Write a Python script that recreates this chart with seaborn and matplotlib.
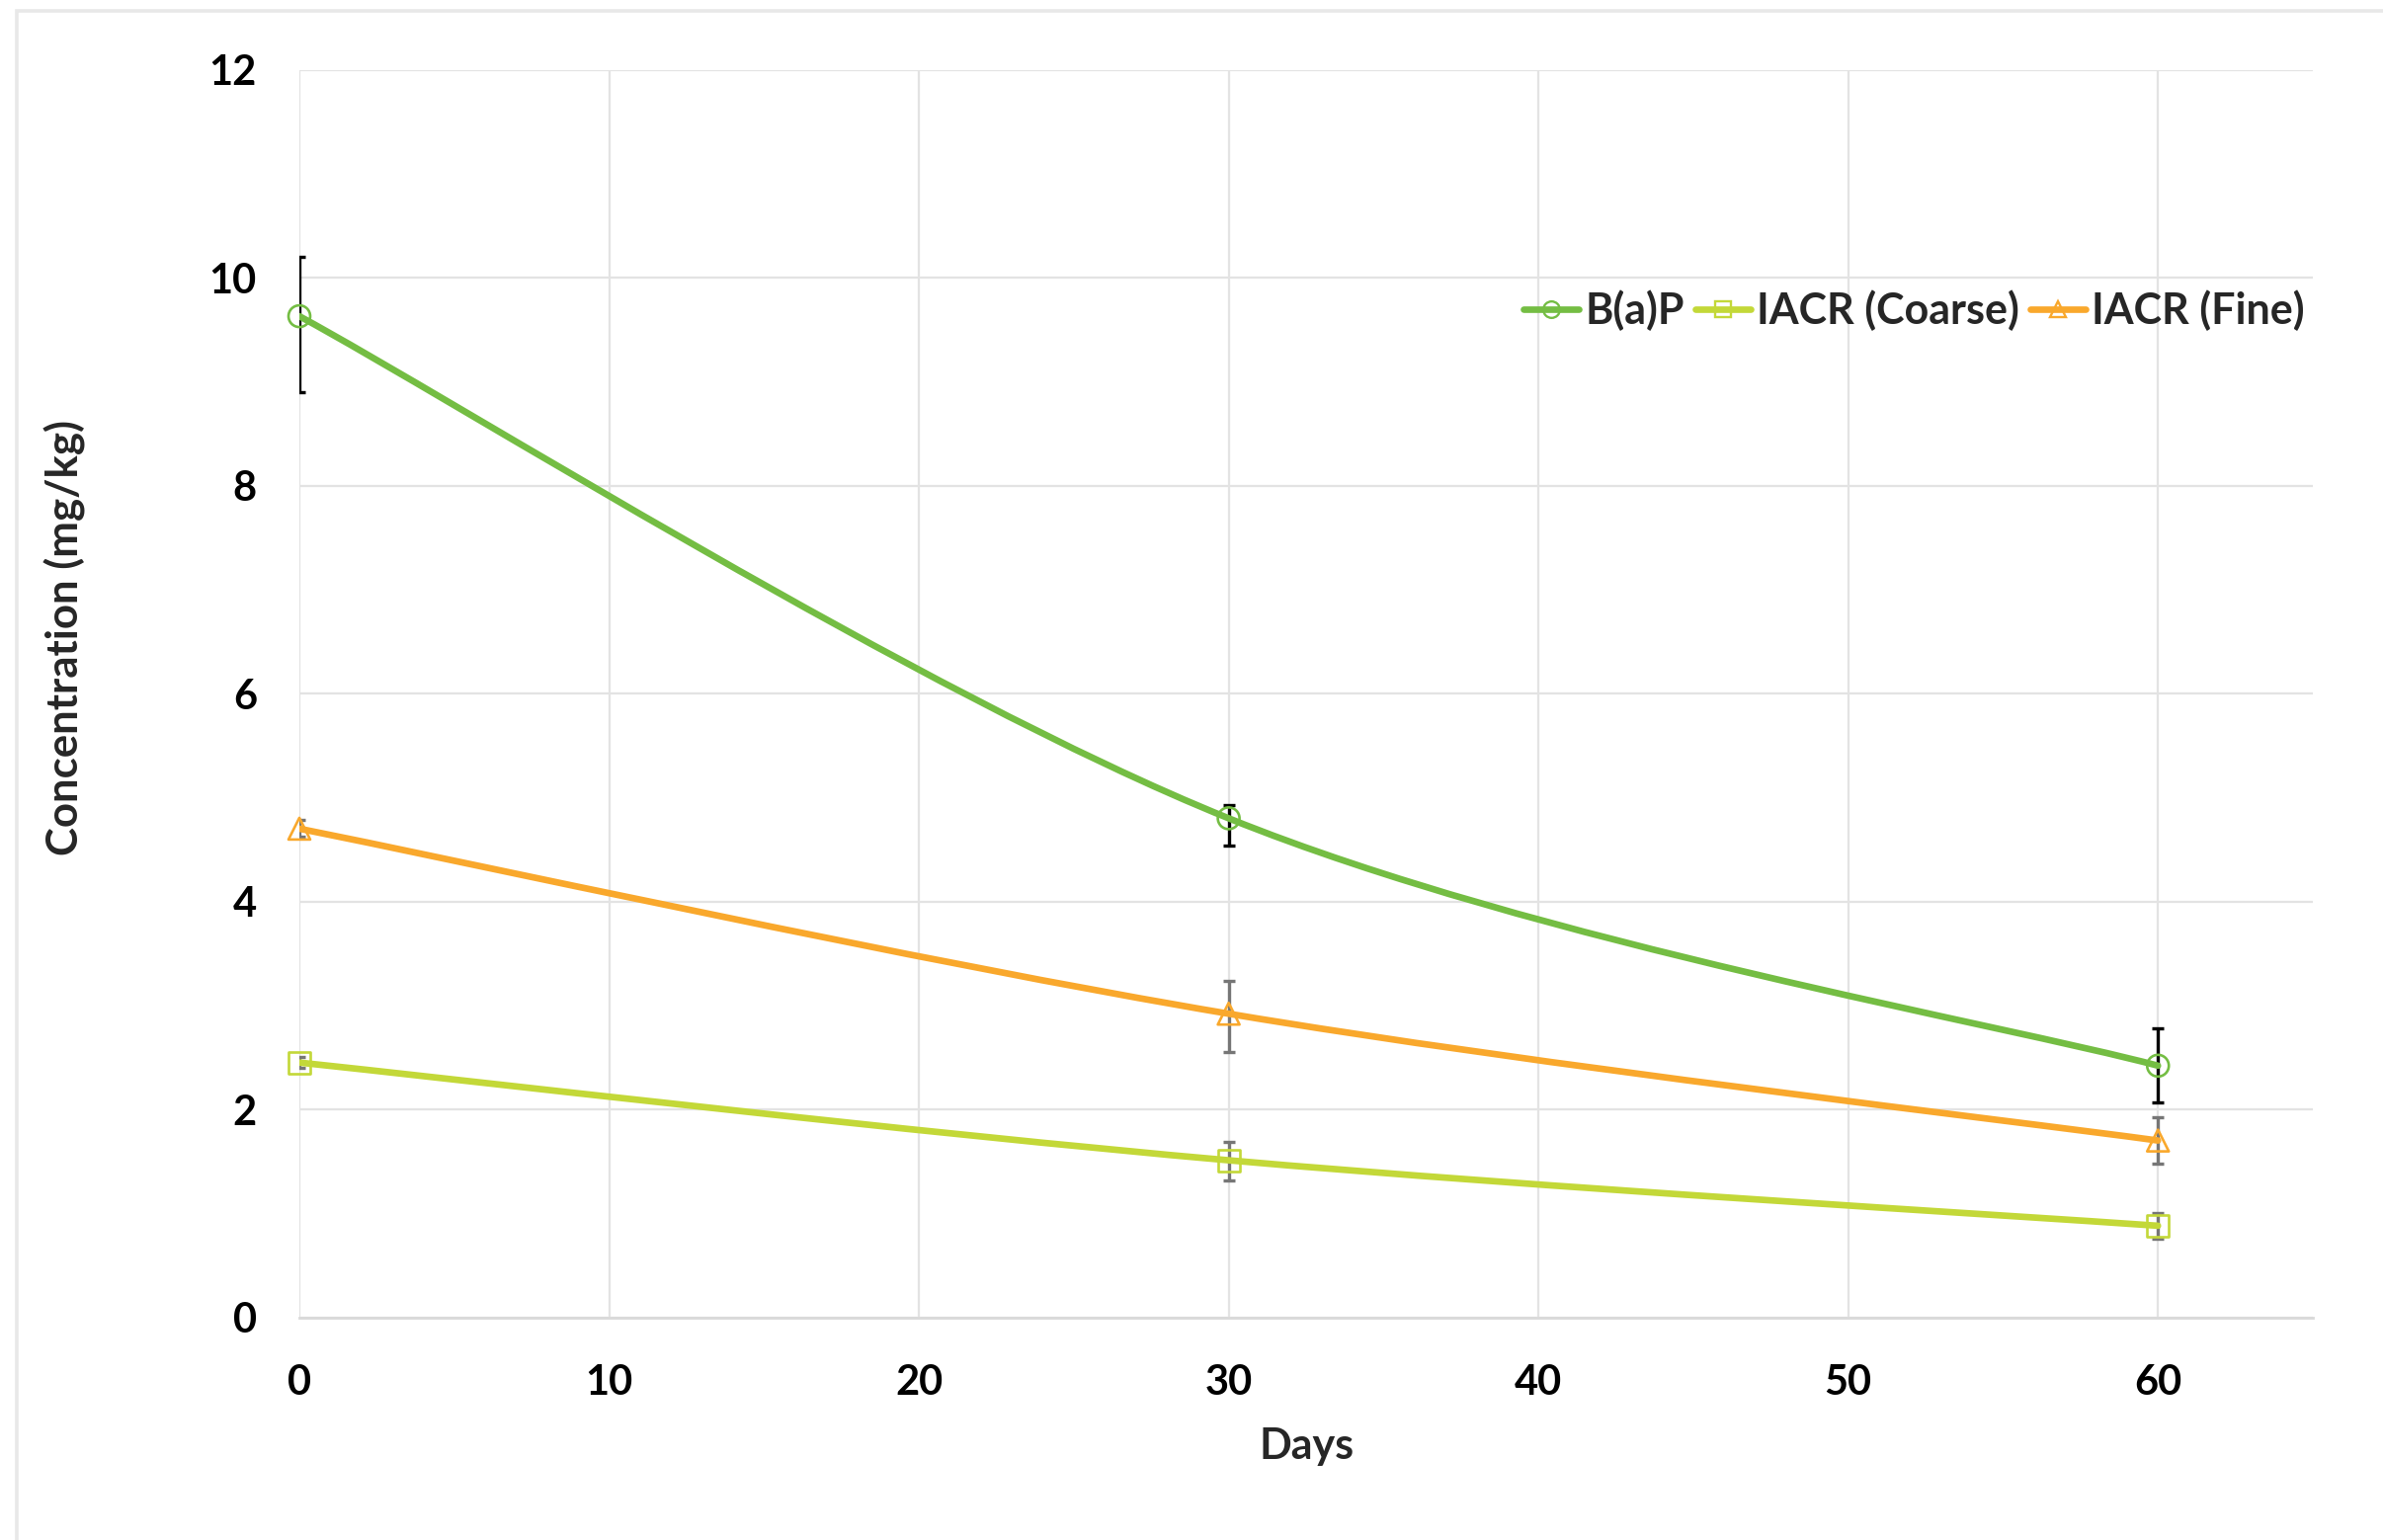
import numpy as np
import pandas as pd
import seaborn as sns
import matplotlib
matplotlib.use("Agg")
import matplotlib.pyplot as plt
from matplotlib.path import Path
from matplotlib.patches import PathPatch, Rectangle
from matplotlib.lines import Line2D
from matplotlib.collections import PathCollection

# Sampling days
days = [0, 30, 60]

# Mean concentrations (mg/kg)
bap = [9.63, 4.80, 2.42]
iacr_coarse = [2.45, 1.51, 0.88]
iacr_fine = [4.70, 2.92, 1.70]

# Error bar extents (lower, upper)
bap_err_lo = [0.73, 0.26, 0.35]
bap_err_hi = [0.57, 0.13, 0.36]
coarse_err_lo = [0.05, 0.19, 0.12]
coarse_err_hi = [0.05, 0.18, 0.12]
fine_err_lo = [0.08, 0.37, 0.22]
fine_err_hi = [0.08, 0.32, 0.22]

series_names = ["B(a)P", "IACR (Coarse)", "IACR (Fine)"]
x_ticks = [0, 10, 20, 30, 40, 50, 60]
y_ticks = [0, 2, 4, 6, 8, 10, 12]

colors = {"B(a)P": "#74BD43", "IACR (Coarse)": "#C3D838", "IACR (Fine)": "#F9A82C"}
markers = {"B(a)P": "o", "IACR (Coarse)": "s", "IACR (Fine)": "^"}
err_colors = {"B(a)P": "#000000", "IACR (Coarse)": "#767676", "IACR (Fine)": "#767676"}

values = {"B(a)P": bap, "IACR (Coarse)": iacr_coarse, "IACR (Fine)": iacr_fine}
errs = {"B(a)P": (bap_err_lo, bap_err_hi),
        "IACR (Coarse)": (coarse_err_lo, coarse_err_hi),
        "IACR (Fine)": (fine_err_lo, fine_err_hi)}

df = pd.concat([pd.DataFrame({"Days": days, "Concentration": values[n], "Series": n})
                for n in series_names], ignore_index=True)

sns.set_theme(style="whitegrid")
font = "Lato"
plt.rcParams["font.family"] = [font, "DejaVu Sans"]

fig = plt.figure(figsize=(24.12, 15.59), dpi=100)
ax = fig.add_axes([303 / 2412, 1 - 1333.5 / 1559, 2038 / 2412, 1262.8 / 1559])


def smooth_path(xs, ys):
    """Cubic Bezier path through the points (Catmull-Rom style tangents)."""
    pts = np.column_stack([xs, ys]).astype(float)
    n = len(pts)
    verts = [pts[0]]
    codes = [Path.MOVETO]
    for i in range(n - 1):
        p_prev = pts[i - 1] if i > 0 else pts[i]
        p_next = pts[i + 2] if i + 2 < n else pts[i + 1]
        c1 = pts[i] + (pts[i + 1] - p_prev) / 6.0
        c2 = pts[i + 1] - (p_next - pts[i]) / 6.0
        verts += [c1, c2, pts[i + 1]]
        codes += [Path.CURVE4] * 3
    return Path(verts, codes)


for name in series_names:
    lo, hi = errs[name]
    ax.errorbar(days, values[name], yerr=[lo, hi], fmt="none",
                ecolor=err_colors[name], elinewidth=2.4, capsize=4.5,
                capthick=2.4, zorder=2)
    ax.add_patch(PathPatch(smooth_path(days, values[name]), facecolor="none",
                           edgecolor=colors[name], lw=4.8, zorder=3,
                           capstyle="round"))

sns.scatterplot(data=df, x="Days", y="Concentration", hue="Series",
                style="Series", palette=colors, markers=markers,
                hue_order=series_names, style_order=series_names,
                s=250, linewidth=1.9, legend=False,
                ax=ax, zorder=4, clip_on=False)
# hollow markers: edge in series colour, no fill
for coll in ax.collections:
    if isinstance(coll, PathCollection):
        fc = coll.get_facecolors()
        if len(fc):
            coll.set_edgecolors(fc)
            coll.set_facecolors("none")

ax.set_xlim(0, 65)
ax.set_ylim(0, 12)
ax.set_xticks(x_ticks)
ax.set_yticks(y_ticks)
ax.set_xticklabels([str(t) for t in x_ticks], fontsize=30, fontweight="bold", family=font)
ax.set_yticklabels([str(t) for t in y_ticks], fontsize=30, fontweight="bold", family=font)
ax.tick_params(axis="y", pad=31, length=0, colors="black")
ax.tick_params(axis="x", pad=34, length=0, colors="black")
ax.grid(True, color="#E3E3E3", lw=1.6)
for s in ["left", "right", "top"]:
    ax.spines[s].set_visible(False)
ax.spines["bottom"].set_color("#D9D9D9")
ax.spines["bottom"].set_linewidth(2)
ax.set_xlabel("")
ax.set_ylabel("")

fig.text(66 / 2412, 1 - 645 / 1559, "Concentration (mg/kg)", rotation=90,
         ha="center", va="center", fontsize=31.5, fontweight="bold", family=font)
fig.text(1323 / 2412, 1 - 1464 / 1559, "Days", ha="center", va="center",
         fontsize=31, fontweight="bold", family=font)

handles = [Line2D([0], [0], color=colors[n], lw=4.8, marker=markers[n],
                  markersize=12, markerfacecolor="none",
                  markeredgecolor=colors[n], markeredgewidth=1.7)
           for n in series_names]
ax.legend(handles, series_names, loc="center right", bbox_to_anchor=(0.996, 0.807),
          ncol=3, frameon=False, handlelength=1.3, handletextpad=0.15,
          columnspacing=0.25, borderpad=0, borderaxespad=0,
          prop={"family": font, "weight": "bold", "size": 31})

# chart-area border
fig.patches.append(Rectangle((17 / 2412, -0.1), 2.0, 1 - 11 / 1559 + 0.1,
                             transform=fig.transFigure, fill=False,
                             edgecolor="#E8E8E8", lw=2.6, zorder=0))

fig.savefig("out.png", dpi=100)
